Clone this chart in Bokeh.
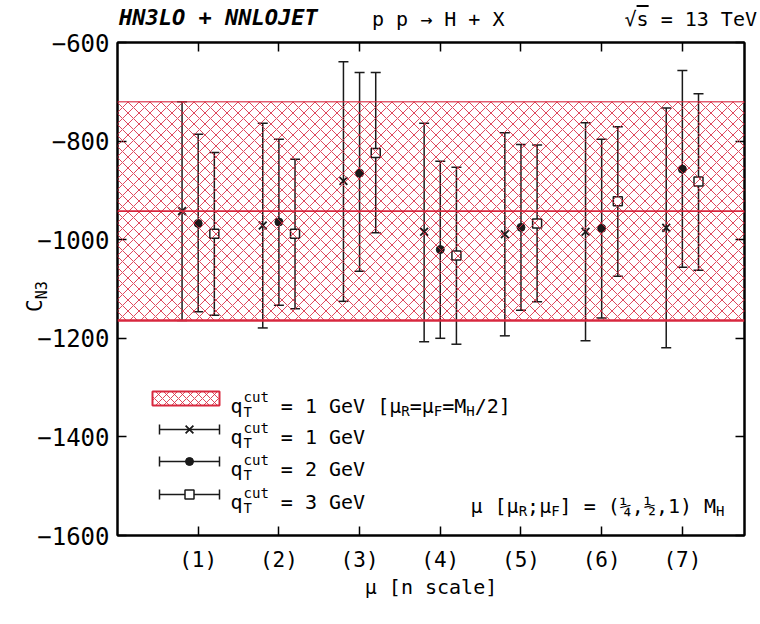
import numpy as np
from bokeh.plotting import figure
from bokeh.layouts import column, row
from bokeh.models import Range1d, LinearAxis, FixedTicker, Whisker, TeeHead, ColumnDataSource, Span, Label, BoxAnnotation, Div
from bokeh.embed import file_html
from bokeh.resources import INLINE

# ---------------- data ----------------
scales = [1, 2, 3, 4, 5, 6, 7]
scale_labels = ["(1)", "(2)", "(3)", "(4)", "(5)", "(6)", "(7)"]
y_ticks = [-1600, -1400, -1200, -1000, -800, -600]

cut1_val = [-942, -971, -881, -984, -989, -984, -976]
cut1_hi = [-720, -764, -639, -764, -783, -763, -733]
cut1_lo = [-1164, -1179, -1125, -1207, -1195, -1205, -1219]

cut2_val = [-967, -964, -865, -1020, -975, -977, -857]
cut2_hi = [-786, -796, -661, -841, -807, -796, -657]
cut2_lo = [-1146, -1133, -1064, -1200, -1143, -1159, -1056]

cut3_val = [-988, -988, -824, -1032, -967, -922, -882]
cut3_hi = [-823, -837, -661, -853, -808, -771, -704]
cut3_lo = [-1153, -1140, -986, -1212, -1126, -1074, -1062]

band_central = -942
band_upper = -720
band_lower = -1164

# ---------------- style ----------------
FONT = "DejaVu Sans Mono"
RED = "#d8283f"
INK = "#1a1a1a"
FW, FH = 627, 493
TOP_H = 30
LEFT_W = 34
BORDER_L = 81
BORDER_T = 12
BORDER_B = 85

p = figure(frame_width=FW, frame_height=FH,
           x_range=Range1d(0, 7.77), y_range=Range1d(-1600, -600),
           output_backend="svg", toolbar_location=None,
           min_border_left=BORDER_L, min_border_right=14, min_border_top=BORDER_T,
           min_border_bottom=BORDER_B)
p.extra_x_ranges = {"leg": Range1d(0, FW)}
p.extra_y_ranges = {"leg": Range1d(0, FH)}
p.grid.visible = False
p.outline_line_color = "black"
p.outline_line_width = 2
p.background_fill_color = "white"
p.border_fill_color = None

for ax in [p.xaxis[0], p.yaxis[0]]:
    ax.major_tick_in = 9
    ax.major_tick_out = 0
    ax.minor_tick_in = 0
    ax.minor_tick_out = 0
    ax.axis_line_width = 2
    ax.major_tick_line_width = 1.5
    ax.major_label_text_font = FONT
    ax.major_label_text_color = "black"

p.xaxis.ticker = FixedTicker(ticks=scales)
p.xaxis.major_label_overrides = {s: l for s, l in zip(scales, scale_labels)}
p.xaxis.major_label_text_font_size = "21px"
p.xaxis.major_label_standoff = 12
p.xaxis.axis_label = "μ [n scale]"
p.xaxis.axis_label_text_font = FONT
p.xaxis.axis_label_text_font_style = "normal"
p.xaxis.axis_label_text_font_size = "20px"
p.xaxis.axis_label_text_color = "black"
p.xaxis.axis_label_standoff = 0
p.yaxis.ticker = FixedTicker(ticks=y_ticks)
p.yaxis.major_label_overrides = {t: str(t).replace("-", "\u2212") for t in y_ticks}
p.yaxis.major_label_text_font_size = "24px"
p.yaxis.major_label_standoff = 8

top = LinearAxis(ticker=FixedTicker(ticks=scales), major_label_text_font_size="1px",
                 major_label_overrides={s: "" for s in scales},
                 major_tick_in=9, major_tick_out=0, minor_tick_in=0, minor_tick_out=0,
                 axis_line_width=2, major_tick_line_width=1.5, major_label_standoff=0)
right = LinearAxis(ticker=FixedTicker(ticks=y_ticks), major_label_text_font_size="1px",
                   major_label_overrides={t: "" for t in y_ticks},
                   major_tick_in=9, major_tick_out=0, minor_tick_in=0, minor_tick_out=0,
                   axis_line_width=2, major_tick_line_width=1.5, major_label_standoff=0)
p.add_layout(top, "above")
p.add_layout(right, "right")

# band
p.add_layout(BoxAnnotation(bottom=band_lower, top=band_upper, fill_color=None, line_color=None,
                           hatch_pattern="x", hatch_color=RED, hatch_alpha=0.85,
                           hatch_scale=11, hatch_weight=1))
p.add_layout(Span(location=band_upper, dimension="width", line_color=RED, line_width=1.5, line_alpha=0.75))
p.add_layout(Span(location=band_central, dimension="width", line_color=RED, line_width=1.8))
p.add_layout(Span(location=band_lower, dimension="width", line_color=RED, line_width=2.5))

# error bars
series = [(-0.2, cut1_val, cut1_hi, cut1_lo, "x"),
          (0.0, cut2_val, cut2_hi, cut2_lo, "circle"),
          (0.2, cut3_val, cut3_hi, cut3_lo, "square")]
for off, val, hi, lo, mk in series:
    src = ColumnDataSource(dict(x=np.array(scales) + off, y=val, hi=hi, lo=lo))
    w = Whisker(base="x", upper="hi", lower="lo", source=src, dimension="height",
                line_color=INK, line_width=1.5,
                upper_head=TeeHead(size=10, line_color=INK, line_width=1.5),
                lower_head=TeeHead(size=10, line_color=INK, line_width=1.5))
    p.add_layout(w)
    if mk == "x":
        p.scatter("x", "y", source=src, marker="x", size=11, line_color=INK, line_width=1.8)
    elif mk == "circle":
        p.scatter("x", "y", source=src, marker="circle", size=8, fill_color=INK, line_color=INK)
    else:
        p.scatter("x", "y", source=src, marker="square", size=9, fill_color="white", line_color=INK, line_width=1.5)

# ---------------- in-frame text helpers (pixels from frame bottom-left) ----------------
ADV = 0.602
FRAME_LEFT = 117
FRAME_BOTTOM = TOP_H + BORDER_T + FH


def lab(x, y, text, size=20):
    p.add_layout(Label(x=x, y=y, x_range_name="leg", y_range_name="leg", text=text,
                       text_font=FONT, text_font_size=f"{size}px",
                       text_color="black", text_align="left", text_baseline="alphabetic"))


def rich(x, y, parts, size=20):
    small = round(size * 0.7)
    for part in parts:
        kind = part[0]
        if kind == "n":
            lab(x, y, part[1], size)
            x += len(part[1]) * ADV * size
        elif kind == "gap":
            x += part[1]
        elif kind == "sub":
            lab(x, y - 0.28 * size, part[1], small)
            x += len(part[1]) * ADV * small
        elif kind == "subsup":
            lab(x, y - 0.32 * size, part[1], small)
            lab(x, y + 0.42 * size, part[2], small)
            x += max(len(part[1]), len(part[2])) * ADV * small


def pg(px, py):
    return px - FRAME_LEFT, FRAME_BOTTOM - py


# legend
rows = [398, 429, 461, 494]
bx0, _ = pg(152, 0)
bx1, _ = pg(219, 0)
_, r1 = pg(0, rows[0])
p.quad(left=bx0, right=bx1, bottom=r1 - 7, top=r1 + 7, x_range_name="leg", y_range_name="leg",
       fill_color=None, line_color=RED, line_width=2, hatch_pattern="x", hatch_color=RED,
       hatch_alpha=0.85, hatch_scale=8, hatch_weight=1)
legend_texts = ["= 1 GeV [μ", "= 1 GeV", "= 2 GeV", "= 3 GeV"]
markers = [None, "x", "circle", "square"]
lx0, _ = pg(159, 0)
for i, py in enumerate(rows):
    _, ly = pg(0, py)
    if markers[i] is not None:
        p.segment(x0=lx0, x1=bx1, y0=ly, y1=ly, x_range_name="leg", y_range_name="leg",
                  line_color=INK, line_width=1.5)
        p.segment(x0=[lx0, bx1], x1=[lx0, bx1], y0=ly - 5, y1=ly + 5, x_range_name="leg",
                  y_range_name="leg", line_color=INK, line_width=1.5)
        cx = (lx0 + bx1) / 2
        if markers[i] == "x":
            p.scatter(x=[cx], y=[ly], marker="x", size=11, line_color=INK, line_width=1.8,
                      x_range_name="leg", y_range_name="leg")
        elif markers[i] == "circle":
            p.scatter(x=[cx], y=[ly], marker="circle", size=8, fill_color=INK, line_color=INK,
                      x_range_name="leg", y_range_name="leg")
        else:
            p.scatter(x=[cx], y=[ly], marker="square", size=9, fill_color="white", line_color=INK,
                      line_width=1.5, x_range_name="leg", y_range_name="leg")
    tx, _ = pg(230, 0)
    parts = [("n", "q"), ("gap", 1), ("subsup", "T", "cut"), ("gap", 12), ("n", legend_texts[i])]
    if i == 0:
        parts += [("sub", "R"), ("n", "=μ"), ("sub", "F"), ("n", "=M"), ("sub", "H"), ("n", "/2]")]
    rich(tx, ly - 7, parts)

x, y = pg(470, 505)
rich(x, y, [("n", "μ [μ"), ("sub", "R"), ("n", ";μ"), ("sub", "F"), ("n", "] = (¼,½,1) M"), ("sub", "H")])

# ---------------- texts outside the frame ----------------
title_html = (
    f'<div style="position:relative;width:760px;height:{TOP_H}px;font-family:\'DejaVu Sans Mono\';color:black;">'
    '<span style="position:absolute;left:119px;top:7px;font-size:22px;line-height:22px;'
    'font-weight:bold;font-style:italic;white-space:nowrap;">HN3LO + NNLOJET</span>'
    '<span style="position:absolute;left:372px;top:9px;font-size:20px;line-height:20px;'
    'white-space:nowrap;">p p → H + X</span>'
    '<span style="position:absolute;right:3px;top:9px;font-size:20px;line-height:20px;'
    'white-space:nowrap;">√<span style="text-decoration:overline;">s</span> = 13 TeV</span>'
    '</div>'
)
top_div = Div(text=title_html, width=760, height=TOP_H, margin=0)

ylab_html = (
    f'<div style="position:relative;width:{LEFT_W}px;height:{BORDER_T + FH + BORDER_B}px;'
    'font-family:\'DejaVu Sans Mono\';color:black;overflow:visible;">'
    '<div style="position:absolute;left:25px;top:282px;transform:rotate(-90deg);transform-origin:0 0;'
    'white-space:nowrap;font-size:21px;line-height:21px;">C<span style="font-size:15px;position:relative;top:5px;">N3</span></div>'
    '</div>'
)
left_div = Div(text=ylab_html, width=LEFT_W, height=BORDER_T + FH + BORDER_B, margin=0,
               styles={"overflow": "visible", "z-index": "2"})

layout = column(top_div, row(left_div, p, spacing=0), spacing=0)

open("out.html", "w").write(file_html(layout, INLINE))
